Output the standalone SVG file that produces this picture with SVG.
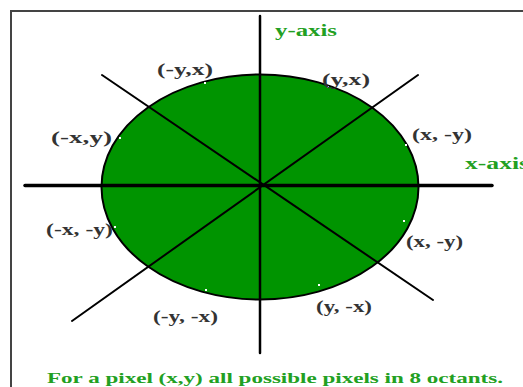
<svg xmlns="http://www.w3.org/2000/svg" width="523" height="387" viewBox="0 0 523 387">
<style>
.lbl{font-family:"Liberation Serif","DejaVu Serif",serif;font-weight:bold;font-size:17px;fill:#333}
.grn{font-family:"Liberation Serif","DejaVu Serif",serif;font-weight:bold;fill:#22a022}
.ax{stroke:#000;stroke-linecap:round}
.dot{fill:#fff}
</style>
<rect x="0" y="0" width="523" height="387" fill="#fff"/>
<rect x="11" y="11" width="530" height="400" fill="none" stroke="#444" stroke-width="2"/>
<g id="circle">
<ellipse cx="260" cy="187" rx="158.5" ry="112.5" fill="#009400" stroke="#000" stroke-width="2"/>
</g>
<g id="connectors">
<line class="ax" x1="25" y1="185.5" x2="492" y2="185.5" stroke-width="3.5"/>
<line class="ax" x1="260" y1="16" x2="260" y2="353" stroke-width="2.5"/>
<line class="ax" x1="102" y1="75" x2="433" y2="300" stroke-width="2"/>
<line class="ax" x1="418" y1="75" x2="72" y2="321" stroke-width="2"/>
</g>
<g id="dots">
<rect class="dot" x="204" y="82" width="2" height="2"/>
<rect class="dot" x="327" y="86" width="2" height="2"/>
<rect class="dot" x="119" y="137" width="2" height="2"/>
<rect class="dot" x="405" y="144" width="2" height="2"/>
<rect class="dot" x="114" y="226" width="2" height="2"/>
<rect class="dot" x="403" y="220" width="2" height="2"/>
<rect class="dot" x="205" y="289" width="2" height="2"/>
<rect class="dot" x="318" y="284" width="2" height="2"/>
</g>
<g id="labels">
<text class="grn" x="275" y="36" font-size="17" textLength="62" lengthAdjust="spacingAndGlyphs">y-axis</text>
<text class="grn" x="465" y="169" font-size="17" textLength="64" lengthAdjust="spacingAndGlyphs">x-axis</text>
<text class="lbl" x="157" y="75" textLength="56" lengthAdjust="spacingAndGlyphs">(-y,x)</text>
<text class="lbl" x="322" y="85" textLength="48" lengthAdjust="spacingAndGlyphs">(y,x)</text>
<text class="lbl" x="51" y="143" textLength="61" lengthAdjust="spacingAndGlyphs">(-x,y)</text>
<text class="lbl" x="412" y="140" textLength="60" lengthAdjust="spacingAndGlyphs">(x, -y)</text>
<text class="lbl" x="46" y="235" textLength="67" lengthAdjust="spacingAndGlyphs">(-x, -y)</text>
<text class="lbl" x="406" y="247" textLength="57" lengthAdjust="spacingAndGlyphs">(x, -y)</text>
<text class="lbl" x="153" y="322" textLength="65" lengthAdjust="spacingAndGlyphs">(-y, -x)</text>
<text class="lbl" x="316" y="312" textLength="56" lengthAdjust="spacingAndGlyphs">(y, -x)</text>
<text class="grn" x="47" y="383" font-size="14" textLength="456" lengthAdjust="spacingAndGlyphs">For a pixel (x,y) all possible pixels in 8 octants.</text>
</g>
</svg>
